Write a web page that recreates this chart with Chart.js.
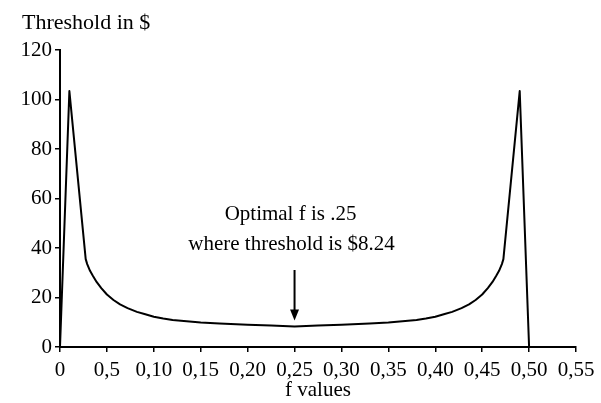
<!DOCTYPE html>
<html>
<head>
<meta charset="utf-8">
<script src="https://cdn.jsdelivr.net/npm/chart.js@4/dist/chart.umd.min.js"></script>
<style>
html,body{margin:0;padding:0;background:#fff;}
#wrap{width:601px;height:403px;}
</style>
</head>
<body>
<div id="wrap"><canvas id="c" width="601" height="403"></canvas></div>
<script>
// ---- data ----
const fValues = [0, 0.01, 0.0274, 0.029, 0.032, 0.035, 0.039, 0.044, 0.05, 0.057, 0.064, 0.072, 0.082, 0.09, 0.1, 0.11, 0.12, 0.135, 0.15, 0.17, 0.2, 0.225, 0.25,
                 0.275, 0.3, 0.33, 0.35, 0.365, 0.38, 0.39, 0.4, 0.41, 0.418, 0.428, 0.436, 0.443, 0.45, 0.456, 0.461, 0.465, 0.468, 0.471, 0.4726, 0.49, 0.5];
const thresholds = [0, 103.4, 35.5, 33.5, 30.8, 28.8, 26.3, 23.8, 21.2, 19, 17.2, 15.7, 14.2, 13.3, 12.2, 11.5, 10.9, 10.4, 9.9, 9.5, 9.0, 8.7, 8.24,
                    8.7, 9.0, 9.5, 9.9, 10.4, 10.9, 11.5, 12.2, 13.3, 14.2, 15.7, 17.2, 19, 21.2, 23.8, 26.3, 28.8, 30.8, 33.5, 35.5, 103.4, 0];
const xTickLabels = ["0", "0,5", "0,10", "0,15", "0,20", "0,25", "0,30", "0,35", "0,40", "0,45", "0,50", "0,55"];
const yTitle = "Threshold in $";
const xTitle = "f values";
const noteLines = ["Optimal f is .25", "where threshold is $8.24"];
const optimalF = 0.25;
const optimalThreshold = 8.24;

const FONT = "'Liberation Serif', 'Times New Roman', serif";

const annotate = {
  id: 'annotate',
  afterDraw(chart) {
    const ctx = chart.ctx;
    const xs = chart.scales.x, ys = chart.scales.y;
    ctx.save();
    ctx.fillStyle = '#000';
    ctx.strokeStyle = '#000';
    ctx.font = '22px ' + FONT;
    ctx.textAlign = 'left';
    ctx.textBaseline = 'alphabetic';
    ctx.fillText(yTitle, 22, 29);
    const px = xs.getPixelForValue(optimalF);
    ctx.font = '21px ' + FONT;
    ctx.textAlign = 'center';
    ctx.fillText(noteLines[0], px - 4, 220);
    ctx.fillText(noteLines[1], px - 3, 250);
    const tipY = ys.getPixelForValue(optimalThreshold) - 6;
    ctx.lineWidth = 2;
    ctx.beginPath();
    ctx.moveTo(px, 270);
    ctx.lineTo(px, tipY - 8);
    ctx.stroke();
    ctx.beginPath();
    ctx.moveTo(px - 4.5, tipY - 11);
    ctx.lineTo(px + 4.5, tipY - 11);
    ctx.lineTo(px, tipY);
    ctx.closePath();
    ctx.fill();
    ctx.restore();
  }
};

new Chart(document.getElementById('c'), {
  type: 'scatter',
  data: {
    datasets: [{
      data: fValues.map((f, i) => ({x: f, y: thresholds[i]})),
      showLine: true,
      borderColor: '#000',
      borderWidth: 2,
      pointRadius: 0,
      tension: 0,
      borderJoinStyle: 'round',
      fill: false
    }]
  },
  options: {
    responsive: false,
    animation: false,
    devicePixelRatio: 1,
    layout: { padding: { top: 50, right: 25, bottom: 0, left: 0 } },
    plugins: { legend: { display: false }, tooltip: { enabled: false } },
    scales: {
      x: {
        type: 'linear',
        min: 0, max: 0.55,
        afterBuildTicks(scale) {
          scale.ticks = xTickLabels.map((_, i) => ({ value: i * 0.05 }));
        },
        afterFit(scale) { scale.height = 56; },
        border: { display: true, color: '#000', width: 2 },
        grid: { display: true, drawOnChartArea: false, drawTicks: true, tickLength: 5, color: '#000', lineWidth: 1.5 },
        ticks: {
          color: '#000', font: { family: FONT, size: 21 }, padding: 6, maxRotation: 0, autoSkip: false,
          callback: (v, i) => xTickLabels[i]
        },
        title: { display: true, text: xTitle, color: '#000', font: { family: FONT, size: 21 }, padding: { top: 0, bottom: 0 } }
      },
      y: {
        min: 0, max: 120,
        ticks: { stepSize: 20, color: '#000', font: { family: FONT, size: 21 }, padding: 3 },
        afterFit(scale) { scale.width = 60; },
        border: { display: true, color: '#000', width: 2 },
        grid: { display: true, drawOnChartArea: false, drawTicks: true, tickLength: 5, color: '#000', lineWidth: 1.5 }
      }
    }
  },
  plugins: [annotate]
});
</script>
</body>
</html>
